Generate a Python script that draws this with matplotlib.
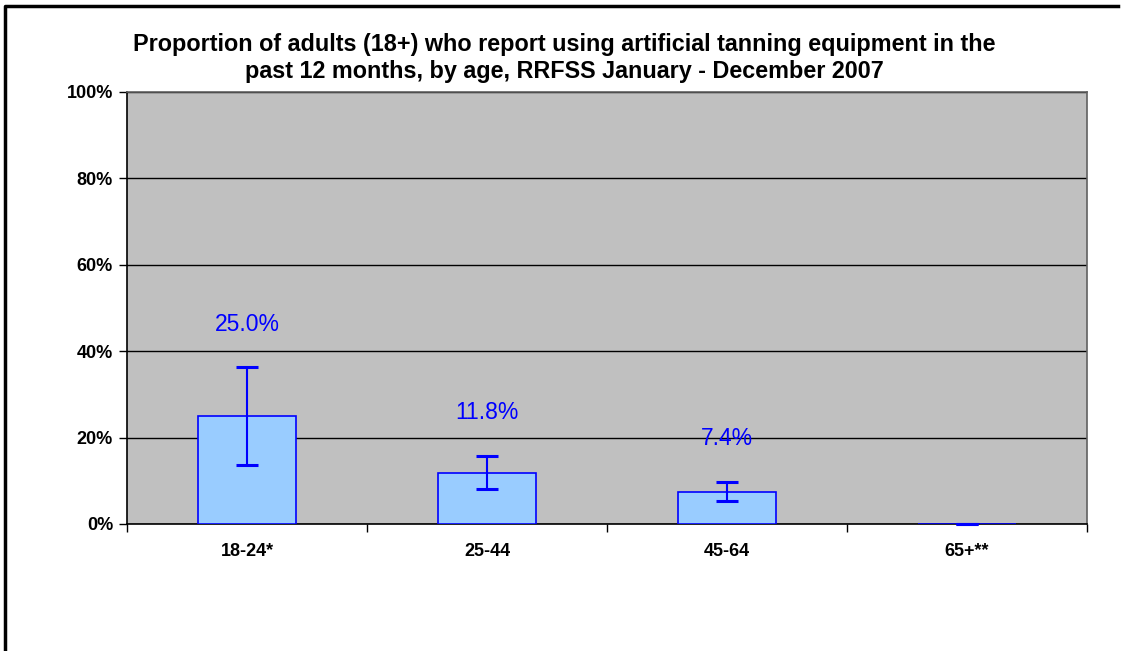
import matplotlib.pyplot as plt
from matplotlib.lines import Line2D
import numpy as np

# Data
age_groups = ['18-24*', '25-44', '45-64', '65+**']
percent = [25.0, 11.8, 7.4, 0.0]
ci_low = [13.7, 8.0, 5.3, 0.0]
ci_high = [36.3, 15.8, 9.8, 0.0]
value_labels = ['25.0%', '11.8%', '7.4%', '']

plt.rcParams['font.family'] = ['Liberation Sans', 'DejaVu Sans']

fig = plt.figure(figsize=(11.28, 6.51), dpi=100)
ax = fig.add_axes([127 / 1128, 1 - 524 / 651, 960 / 1128, 432 / 651])

x = np.arange(len(age_groups))
vals = np.array(percent)
err = [vals - np.array(ci_low), np.array(ci_high) - vals]

ax.set_facecolor('#C0C0C0')
ax.bar(x, vals, width=0.41, color='#99CCFF', edgecolor='#0000FF', linewidth=1.2, zorder=3)
ax.errorbar(x, vals, yerr=err, fmt='none', ecolor='#0000FF', elinewidth=1.5,
            capsize=8, capthick=2.2, zorder=4, clip_on=False)

# value labels above the upper error bar
for xi, hi, lab in zip(x, ci_high, value_labels):
    if lab:
        ax.annotate(lab, (xi, hi), xytext=(0, 31), textcoords='offset points',
                    ha='center', va='center', fontsize=16.5, color='#0000FF')

ax.set_xlim(-0.5, len(age_groups) - 0.5)
ax.set_ylim(0, 100)
ax.set_yticks(np.arange(0, 101, 20))
ax.set_yticklabels([f'{v}%' for v in range(0, 101, 20)], fontsize=13, fontweight='bold')
ax.set_xticks(x)
ax.set_xticklabels(age_groups, fontsize=13, fontweight='bold')
ax.set_xticks(np.arange(-0.5, len(age_groups), 1), minor=True)
ax.tick_params(axis='x', which='major', length=0, pad=14)
ax.tick_params(axis='x', which='minor', length=6, width=1, direction='out')
ax.tick_params(axis='y', length=6, width=1, direction='out', pad=4)

ax.yaxis.grid(True, color='black', linewidth=1, zorder=1)
ax.set_axisbelow(True)
for side in ['top', 'right']:
    ax.spines[side].set_color('#606060')
    ax.spines[side].set_linewidth(1.2)
for side in ['left', 'bottom']:
    ax.spines[side].set_color('black')
    ax.spines[side].set_linewidth(1.2)

fig.text(564 / 1128, 1 - 58 / 651,
         'Proportion of adults (18+) who report using artificial tanning equipment in the\n'
         'past 12 months, by age, RRFSS January - December 2007',
         ha='center', va='center', fontsize=16.8, fontweight='bold', linespacing=1.2)

# outer chart frame (left and top edges visible)
fig.add_artist(Line2D([5 / 1128, 5 / 1128, 1118 / 1128], [0, 1 - 6 / 651, 1 - 6 / 651],
                      transform=fig.transFigure, color='black', linewidth=2.5))

fig.savefig('out.png', dpi=100)
